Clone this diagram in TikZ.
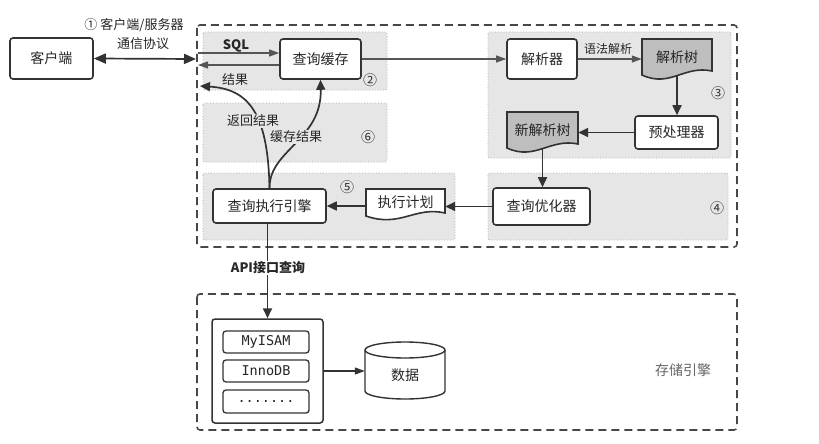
\documentclass[tikz,border=0pt]{standalone}
\usepackage{fontspec}
\setmainfont{Noto Sans CJK SC}
\newfontfamily\monof{DejaVu Sans Mono}
\usetikzlibrary{arrows.meta}
\definecolor{dk}{HTML}{333333}
\definecolor{mid}{HTML}{555555}
\definecolor{regfill}{HTML}{E6E6E6}
\definecolor{regline}{HTML}{AAAAAA}
\definecolor{docfill}{HTML}{BEBEBE}
\tikzset{
  x=1pt, y=1pt,
  box/.style={draw=dk, line width=1.6pt, rounded corners=3pt, fill=white, inner sep=0pt,
    text=black!85, font=\fontsize{14}{16}\selectfont},
  smallbox/.style={draw=dk, line width=1.3pt, rounded corners=3pt, fill=white, inner sep=0pt,
    text=black!85, font=\monof\fontsize{13.5}{15}\selectfont},
  region/.style={draw=regline, dotted, line width=0.8pt, fill=regfill, rounded corners=2pt},
  outerbox/.style={draw=dk!90, line width=1.6pt, dash pattern=on 8pt off 5pt, rounded corners=3pt},
  docline/.style={draw=dk, line width=1.6pt},
  doctext/.style={inner sep=0pt, text=black!85, font=\fontsize{14}{16}\selectfont},
  lbl/.style={inner sep=1pt, text=black!85, font=\fontsize{13}{15}\selectfont},
  num/.style={inner sep=0pt, text=black!80, font=\fontsize{14}{16}\selectfont},
  arr/.style={draw=dk, line width=1.7pt, -{Triangle[length=10pt,width=9pt]}},
  dblarr/.style={draw=dk, line width=1.7pt, {Triangle[length=12pt,width=10pt]}-{Triangle[length=12pt,width=10pt]}},
  thinarr/.style={draw=mid, line width=1.1pt, -{Triangle[length=10pt,width=7pt]}},
}
\begin{document}
\begin{tikzpicture}
\useasboundingbox (0,0) rectangle (819,-444);
\fill[white] (0,0) rectangle (819,-444);

% outer dashed containers
\draw[outerbox] (197,-25) rectangle (737,-247);
\draw[outerbox] (197,-294) rectangle (737,-430);

% shaded regions
\path[region] (203,-32) rectangle (387,-90);
\path[region] (203,-103) rectangle (387,-162);
\path[region] (203,-173) rectangle (455,-240);
\path[region] (488,-32) rectangle (731,-158);
\path[region] (488,-173) rectangle (728,-240);

% circled numbers
\node[num] (n2) at (370,-80) {②};
\node[num] (n6) at (368,-137) {⑥};
\node[num] (n5) at (347,-187) {⑤};
\node[num] (n3) at (718,-93) {③};
\node[num] (n4) at (717,-208) {④};

% boxes
\node[box, minimum width=83, minimum height=41] (client) at (51.5,-58.5) {客户端};
\node[box, minimum width=81, minimum height=40] (qc) at (320.5,-59) {查询缓存};
\node[box, minimum width=70, minimum height=40] (parser) at (542,-59) {解析器};
\node[box, minimum width=83, minimum height=33] (pre) at (676.5,-132.5) {预处理器};
\node[box, minimum width=97, minimum height=37] (opt) at (541.5,-206.5) {查询优化器};
\node[box, minimum width=113, minimum height=34] (engine) at (269.5,-206) {查询执行引擎};

% documents
\draw[docline, fill=docfill] (642,-39) -- (712,-39) -- (712,-71)
  .. controls (684,-65) and (670,-88) .. (642,-75) -- cycle;
\node[doctext, minimum width=70, minimum height=36] (ptree) at (677,-57) {解析树};
\draw[docline, fill=docfill] (507,-112) -- (578,-112) -- (578,-144)
  .. controls (550,-138) and (535,-161) .. (507,-148) -- cycle;
\node[doctext, minimum width=71, minimum height=36] (nptree) at (542.5,-130) {新解析树};
\draw[docline, fill=white] (366,-189) -- (445,-189) -- (445,-213)
  .. controls (415,-206) and (400,-228) .. (366,-216) -- cycle;
\node[doctext, minimum width=79, minimum height=26] (plan) at (405.5,-202) {执行计划};

% storage engine
\node[box, line width=1.5pt, minimum width=111, minimum height=104] (cont) at (267.5,-371) {};
\node[smallbox, minimum width=86, minimum height=22] (myisam) at (266,-342) {MyISAM};
\node[smallbox, minimum width=86, minimum height=22] (innodb) at (266,-371) {InnoDB};
\node[smallbox, minimum width=86, minimum height=23] (more) at (266,-401.5) {.......};

\draw[draw=dk, line width=1.4pt, fill=white] (365,-350) -- (365,-391)
  arc[start angle=180, end angle=360, x radius=40pt, y radius=8pt] -- (445,-350)
  arc[start angle=0, end angle=180, x radius=40pt, y radius=8pt] -- cycle;
\draw[draw=dk, line width=1.4pt] (365,-350) arc[start angle=180, end angle=360, x radius=40pt, y radius=8pt];
\node[doctext, minimum width=80, minimum height=48] (data) at (405,-375) {数据};
\node[lbl, text=black!60, font=\fontsize{14}{16}\selectfont] (se) at (683,-370) {存储引擎};

% coordinates for free ends
\coordinate (srvin) at (196,-59);
\coordinate (sqlin) at (198,-53);
\coordinate (resout) at (198,-65);
\coordinate (retout) at (200,-86);

% connectors
\draw[dblarr] (client.east) -- (srvin);
\draw[thinarr] (sqlin) -- (sqlin -| qc.west);
\draw[thinarr] (resout -| qc.west) -- (resout);
\draw[thinarr] (qc.east) -- (parser.west);
\draw[thinarr] (parser.east) -- (parser.east -| ptree.west);
\draw[arr] (ptree.south) -- (ptree.south |- pre.north);
\draw[arr] (pre.west) -- (pre.west -| nptree.east);
\draw[arr] (nptree.south) -- (nptree.south |- opt.north);
\draw[arr] (opt.west) -- (opt.west -| plan.east);
\draw[arr] (plan.west |- engine.east) -- (engine.east);
\draw[arr] (engine.north) .. controls (268,-112) and (248,-89) .. (retout);
\draw[arr] (engine.north) .. controls (269,-150) and (322,-140) .. (qc.south);
\draw[arr] (cont.north |- engine.south) -- (cont.north);
\draw[thinarr, draw=dk] (cont.east) -- (cont.east -| data.west);

% labels
\node[lbl] (l1) at (134,-25) {① 客户端/服务器};
\node[lbl] (l1b) at (143,-44) {通信协议};
\node[lbl, font=\bfseries\fontsize{13}{15}\selectfont] (lsql) at (236,-46) {SQL};
\node[lbl] (lres) at (235,-80) {结果};
\node[lbl, fill=regfill] (lret) at (253,-121) {返回结果};
\node[lbl, fill=regfill] (lcache) at (296,-137) {缓存结果};
\node[lbl, font=\fontsize{12}{14}\selectfont] (lsyn) at (608,-49) {语法解析};
\node[lbl, fill=white, font=\bfseries\fontsize{13}{15}\selectfont] (lapi) at (268,-268) {API接口查询};
\end{tikzpicture}
\end{document}
